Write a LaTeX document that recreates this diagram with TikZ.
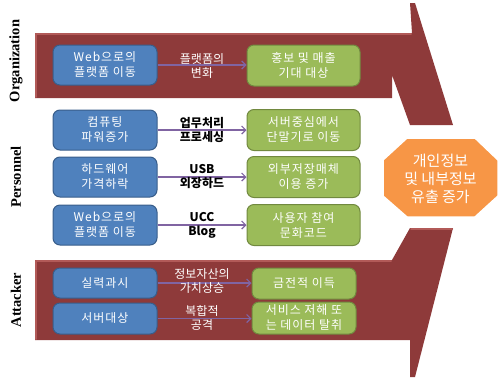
\documentclass[tikz,border=0pt]{standalone}
\usepackage{fontspec}
\setmainfont{Noto Sans CJK KR}
\newfontfamily\kspaced[LetterSpace=8]{Noto Sans CJK KR}
\newfontfamily\sidefont{Liberation Serif}
\usetikzlibrary{arrows.meta}
\definecolor{bandred}{RGB}{142,58,58}
\definecolor{bandlight}{RGB}{178,90,88}
\definecolor{blueA}{RGB}{79,129,189}
\definecolor{blueD}{RGB}{56,93,138}
\definecolor{greenA}{RGB}{155,187,89}
\definecolor{greenD}{RGB}{113,137,63}
\definecolor{purp}{RGB}{128,100,162}
\definecolor{orangeA}{RGB}{247,150,70}
\tikzset{
  bluebox/.style={draw=blueD, fill=blueA, rounded corners=7pt, line width=1pt,
    minimum width=104pt, minimum height=40pt, inner sep=0pt, text=white,
    align=center, font=\kspaced\fontsize{12}{15}\selectfont},
  greenbox/.style={bluebox, draw=greenD, fill=greenA, minimum width=113pt, minimum height=41pt},
  conn/.style={draw=purp, line width=1.2pt, -{Straight Barb[length=4pt,width=8pt]}},
  wlbl/.style={text=white, align=center, font=\fontsize{12}{14}\selectfont, inner sep=0pt},
  blbl/.style={text=black, align=center, font=\bfseries\fontsize{12}{14}\selectfont, inner sep=0pt},
  sidelbl/.style={rotate=90, font=\sidefont\bfseries\fontsize{14.5}{14.5}\selectfont, text=black},
  band/.style={fill=bandred, draw=none},
  bevel/.style={draw=bandlight, line width=2pt, line cap=round}
}
\begin{document}
\begin{tikzpicture}[x=1pt,y=-1pt]
\useasboundingbox (0,0) rectangle (500,386);
% bands
\path[band] (35,33) -- (412,33) -- (410,3) -- (415,3) -- (453,125) -- (410,125) -- (392,75) -- (392,98) -- (35,98) -- cycle;
\draw[bevel] (36,34) -- (411,34);
\draw[bevel] (36,34) -- (36,97);
\path[band] (35,260) -- (392,260) -- (410,228) -- (453,228) -- (415,377) -- (410,377) -- (410,340) -- (35,340) -- cycle;
\draw[bevel] (36,261) -- (391,261);
\draw[bevel] (36,261) -- (36,339);
\draw[bevel] (411,229) -- (452,229);
% side labels
\node[sidelbl] (org) at (16,61) {Organization};
\node[sidelbl] (pers) at (16,177) {Personnel};
\node[sidelbl] (att) at (16,300) {Attacker};
% organization row
\node[bluebox] (b1) at (105,65) {Web으로의\\플랫폼 이동};
\node[greenbox] (g1) at (303.5,65.5) {홍보 및 매출\\기대 대상};
\draw[conn] (b1.east) -- (b1.east -| g1.west);
\node[wlbl] (l1) at (202,66) {플랫폼의\\변화};
% personnel rows
\node[bluebox] (b2) at (105,130) {컴퓨팅\\파워증가};
\node[greenbox] (g2) at (303.5,130) {서버중심에서\\단말기로 이동};
\draw[conn] (b2.east) -- (b2.east -| g2.west);
\node[blbl] (l2) at (202,130) {업무처리\\프로세싱};
\node[bluebox] (b3) at (105,177) {하드웨어\\가격하락};
\node[greenbox] (g3) at (303.5,177) {외부저장매체\\이용 증가};
\draw[conn] (b3.east) -- (b3.east -| g3.west);
\node[blbl] (l3) at (202,177) {USB\\외장하드};
\node[bluebox] (b4) at (105,225) {Web으로의\\플랫폼 이동};
\node[greenbox] (g4) at (303.5,225) {사용자 참여\\문화코드};
\draw[conn] (b4.east) -- (b4.east -| g4.west);
\node[blbl] (l4) at (202,225) {UCC\\Blog};
% attacker rows
\node[bluebox, minimum height=30pt] (b5) at (105,283) {실력과시};
\node[greenbox, minimum width=104pt, minimum height=31pt] (g5) at (304,283.5) {금전적 이득};
\draw[conn] (b5.east) -- (b5.east -| g5.west);
\node[wlbl] (l5) at (202,281) {정보자산의\\가치상승};
\node[bluebox, minimum height=31pt] (b6) at (105,318.5) {서버대상};
\node[greenbox, minimum width=104pt, minimum height=32pt] (g6) at (304,318) {서비스 저해 또\\는 데이터 탈취};
\draw[conn] (b6.east) -- (b6.east -| g6.west);
\node[wlbl] (l6) at (202,318) {복합적\\공격};
% octagon
\path[fill=orangeA, draw=white, line width=1.5pt] (407,138) -- (475,138) -- (498,160) -- (498,196) -- (475,217) -- (407,217) -- (383,196) -- (383,160) -- cycle;
\node[text=white, align=center, font=\fontsize{15}{18}\selectfont, inner sep=0pt] (oct) at (440.5,179) {개인정보\\및 내부정보\\유출 증가};
\end{tikzpicture}
\end{document}
